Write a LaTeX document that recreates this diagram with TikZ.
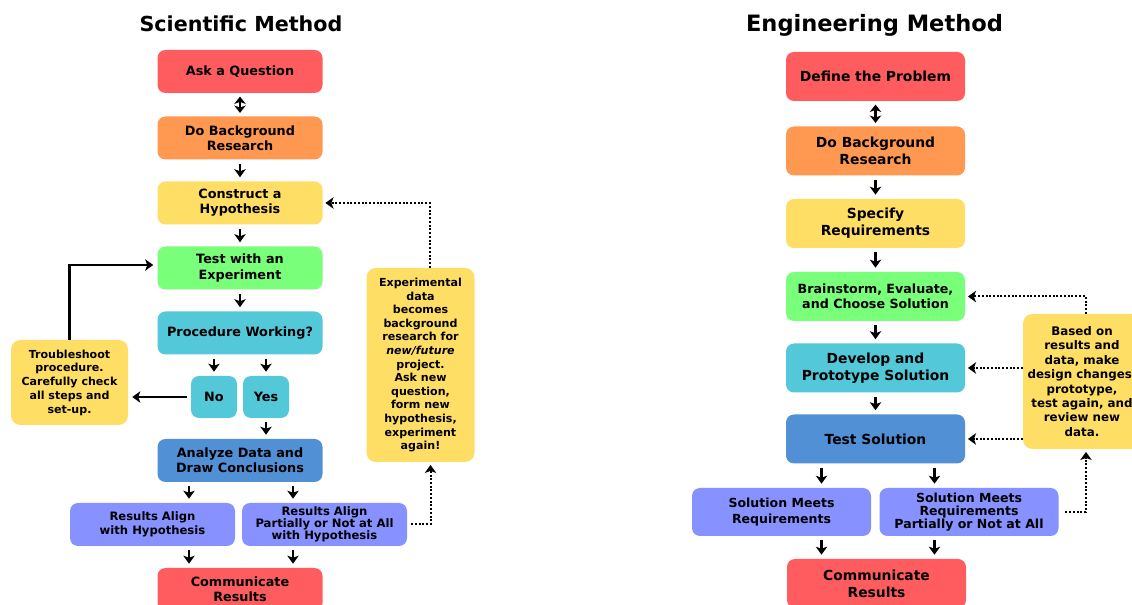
\documentclass[tikz,border=0pt]{standalone}
\usepackage{fontspec}
\setmainfont{DejaVu Sans}
\usepackage{tikz}
\usepackage{xcolor}
\usetikzlibrary{arrows.meta}
\usetikzlibrary{calc}

\definecolor{askred}{RGB}{255,92,95}
\definecolor{bgorange}{RGB}{255,153,82}
\definecolor{hypyellow}{RGB}{255,222,102}
\definecolor{testgreen}{RGB}{122,255,122}
\definecolor{proccyan}{RGB}{82,200,216}
\definecolor{anablue}{RGB}{82,144,214}
\definecolor{resviolet}{RGB}{135,145,255}

\tikzset{
    base/.style={rounded corners=6pt, inner sep=0pt, align=center, text=black},
    sbox/.style={base, minimum width=123.75pt, minimum height=32.25pt,
        font=\bfseries\fontsize{9.6}{11.3}\selectfont},
    ebox/.style={base, minimum width=134.25pt, minimum height=36.75pt,
        font=\bfseries\fontsize{10.4}{12.75}\selectfont},
    notebox/.style={base, fill=hypyellow, rounded corners=7pt},
    arr/.style={line width=1.6pt, -{Stealth[length=6pt,width=8.5pt,inset=1.5pt]},
        shorten <=3pt, shorten >=3pt},
    darr/.style={line width=1.6pt,
        {Stealth[length=5.5pt,width=8.5pt,inset=1.5pt]}-{Stealth[length=5.5pt,width=8.5pt,inset=1.5pt]},
        shorten <=2.5pt, shorten >=2.5pt},
    dotarr/.style={line width=1.5pt, dash pattern=on 1.5pt off 1.3pt,
        -{Stealth[length=6pt,width=8.5pt,inset=1.5pt]}, shorten >=2pt},
    title/.style={anchor=base, font=\bfseries\fontsize{15.5}{18}\selectfont}
}

\begin{document}
\begin{tikzpicture}[x=0.75pt, y=-0.75pt]
    \clip (0,0) rectangle (1132,605);
    %% 左边: Scientific Method
    \node[title] (stitle) at (241,31.5) {Scientific Method};
    \node[sbox, fill=askred]    (ask)  at (240,71.5)  {Ask a Question};
    \node[sbox, fill=bgorange]  (sbg)  at (240,138)   {Do Background\\Research};
    \node[sbox, fill=hypyellow] (hyp)  at (240,203)   {Construct a\\Hypothesis};
    \node[sbox, fill=testgreen] (exper) at (240,268)  {Test with an\\Experiment};
    \node[sbox, fill=proccyan]  (proc) at (240,333)   {Procedure Working?};
    \node[sbox, fill=proccyan, minimum width=34.5pt, minimum height=31.5pt] (no)  at (214,397) {No};
    \node[sbox, fill=proccyan, minimum width=34.5pt, minimum height=31.5pt] (yes) at (266,397) {Yes};
    \node[sbox, fill=anablue]   (ana)  at (240,460.5) {Analyze Data and\\Draw Conclusions};
    \node[sbox, fill=resviolet, font=\bfseries\fontsize{8.7}{10}\selectfont] (res1) at (152.5,524.5) {Results Align\\with Hypothesis};
    \node[sbox, fill=resviolet, font=\bfseries\fontsize{8.7}{9.2}\selectfont] (res2) at (324.5,524.5) {Results Align\\Partially or Not at All\\with Hypothesis};
    \node[sbox, fill=askred]    (scomm) at (240,589.5) {Communicate\\Results};
    \node[notebox, minimum width=87.75pt, minimum height=63.75pt,
        font=\bfseries\fontsize{8.3}{10.3}\selectfont] (trouble) at (69.5,382.5)
        {Troubleshoot\\procedure.\\Carefully check\\all steps and\\set-up.};
    \node[notebox, minimum width=81pt, minimum height=145.5pt,
        font=\bfseries\fontsize{8.3}{10.2}\selectfont] (expdata) at (420.5,365)
        {Experimental\\data\\becomes\\background\\research for\\\textit{new/future}\\project.\\Ask new\\question,\\form new\\hypothesis,\\experiment\\again!};
    %% 箭头
    \draw[darr] (ask) -- (sbg);
    \foreach \a/\b in {sbg/hyp, hyp/exper, exper/proc}
        \draw[arr] (\a) -- (\b);
    \draw[arr] (proc.south -| no.north) -- (no.north);
    \draw[arr] (proc.south -| yes.north) -- (yes.north);
    \draw[arr] (yes.south) -- (yes.south |- ana.north);
    \draw[arr] (no.west) -- (no.west -| trouble.east);
    \draw[arr, shorten <=0pt] (trouble.north) |- ($(exper.west)+(0,-3)$);
    \foreach \dx in {-38.25pt,39.75pt} {
        \draw[arr] ([xshift=\dx]ana.south) -- ([xshift=\dx]ana.south |- res1.north);
        \draw[arr] ([xshift=\dx]ana.south |- res1.south) -- ([xshift=\dx]ana.south |- scomm.north);
    }
    %% 虚线: 反馈
    \draw[dotarr, shorten <=3pt] (res2.east) -| ($(expdata.south)+(10,0)$);
    \draw[dotarr] ($(expdata.north)+(9,0)$) |- (hyp.east);

    %% 右边: Engineering Method
    \node[title, font=\bfseries\fontsize{16.9}{20}\selectfont] (etitle) at (874.5,31.5) {Engineering Method};
    \node[ebox, fill=askred]    (define) at (875.5,76.5) {Define the Problem};
    \node[ebox, fill=bgorange]  (ebg)    at (875.5,151)  {Do Background\\Research};
    \node[ebox, fill=hypyellow] (spec)   at (875.5,223.5) {Specify\\Requirements};
    \node[ebox, fill=testgreen, font=\bfseries\fontsize{9.5}{11.5}\selectfont] (brain) at (875.5,296.5) {Brainstorm, Evaluate,\\and Choose Solution};
    \node[ebox, fill=proccyan]  (dev)    at (875.5,368)  {Develop and\\Prototype Solution};
    \node[ebox, fill=anablue]   (tsol)   at (875.5,439)  {Test Solution};
    \node[ebox, fill=resviolet, minimum height=36pt, font=\bfseries\fontsize{9.4}{12}\selectfont] (sol1) at (781.5,512) {Solution Meets\\Requirements};
    \node[ebox, fill=resviolet, minimum height=36pt, font=\bfseries\fontsize{9.4}{9.8}\selectfont] (sol2) at (969,512) {Solution Meets\\Requirements\\Partially or Not at All};
    \node[ebox, fill=askred]    (ecomm)  at (876.5,583.5) {Communicate\\Results};
    \node[notebox, minimum width=88.5pt, minimum height=101.25pt,
        font=\bfseries\fontsize{8.9}{10.8}\selectfont] (redo) at (1082,381.5)
        {Based on\\results and\\data, make\\design changes,\\prototype,\\test again, and\\review new\\data.};
    %% 箭头
    \draw[darr] (define) -- (ebg);
    \foreach \a/\b in {ebg/spec, spec/brain, brain/dev, dev/tsol}
        \draw[arr] (\a) -- (\b);
    \foreach \dx in {-40.5pt,44.25pt} {
        \draw[arr] ([xshift=\dx]tsol.south) -- ([xshift=\dx]tsol.south |- sol1.north);
        \draw[arr] ([xshift=\dx]tsol.south |- sol1.south) -- ([xshift=\dx]tsol.south |- ecomm.north);
    }
    %% 虚线: 反馈
    \draw[dotarr] ($(redo.north)+(4,0)$) |- (brain.east);
    \draw[dotarr] (redo.west |- dev.east) -- (dev.east);
    \draw[dotarr] (redo.west |- tsol.east) -- (tsol.east);
    \draw[dotarr, shorten <=5pt] (sol2.east) -| ($(redo.south)+(4,0)$);
\end{tikzpicture}
\end{document}
